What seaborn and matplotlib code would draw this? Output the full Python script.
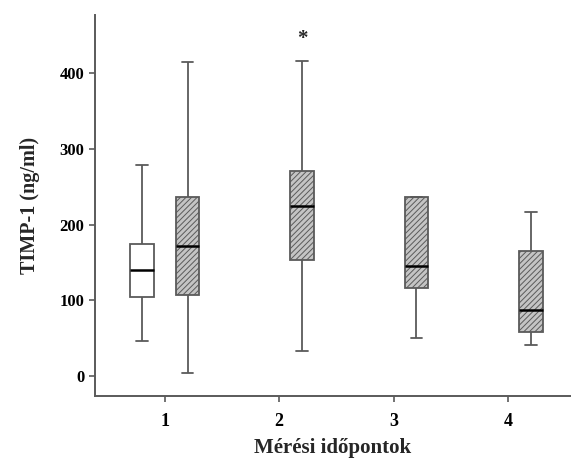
import numpy as np
import pandas as pd
import seaborn as sns
import matplotlib.pyplot as plt

# five-number summaries: min, q1, median, q3, max
times = ['1', '1', '2', '3', '4']
groups = ['kontroll', 'beteg', 'beteg', 'beteg', 'beteg']
summaries = [
    [46, 104, 140, 175, 279],
    [5, 107, 172, 236, 414],
    [33, 153, 225, 270, 416],
    [50, 117, 146, 237, 237],
    [41, 58, 88, 165, 217],
]
time_order = ['1', '2', '3', '4']
group_order = ['kontroll', 'beteg']

rows = []
for t, g, vals in zip(times, groups, summaries):
    for v in vals:
        rows.append({'time': t, 'group': g, 'value': v})
df = pd.DataFrame(rows)

sns.set_style('ticks')
plt.rcParams['font.family'] = ['Liberation Serif', 'DejaVu Serif']
plt.rcParams['hatch.linewidth'] = 0.7

fig = plt.figure(figsize=(5.71, 4.59), dpi=100)
ax = fig.add_axes([0.166, 0.137, 0.834, 0.83])

sns.boxplot(data=df, x='time', y='value', hue='group', order=time_order,
            hue_order=group_order, palette={'kontroll': 'white', 'beteg': '#c4c4c4'},
            saturation=1, width=0.8, gap=0.48, whis=np.inf, linecolor='#5a5a5a',
            linewidth=1.3, medianprops={'color': 'black', 'linewidth': 1.8},
            legend=False, ax=ax)

for p in ax.patches:
    fc = p.get_facecolor()
    if fc[0] < 0.9:
        p.set_hatch('//////')
        p.set_edgecolor('#5a5a5a')

ax.text(1.2, 444, '*', ha='center', va='center', fontsize=15, fontweight='bold')

ax.set_xlim(-0.61, 3.55)
ax.set_ylim(-26, 476)
ax.set_yticks([0, 100, 200, 300, 400])
ax.set_xlabel('Mérési időpontok', fontsize=15, fontweight='bold', labelpad=6)
ax.set_ylabel('TIMP-1 (ng/ml)', fontsize=14.5, fontweight='bold', labelpad=14)

for lab in ax.get_yticklabels():
    lab.set_fontweight('bold')
    lab.set_fontsize(12)
for lab in ax.get_xticklabels():
    lab.set_fontweight('bold')
    lab.set_fontsize(13)

sns.despine(ax=ax)
for s in ['left', 'bottom']:
    ax.spines[s].set_color('#5a5a5a')
    ax.spines[s].set_linewidth(1.4)
ax.tick_params(colors='#5a5a5a', labelcolor='black', length=4, width=1.2)
ax.tick_params(axis='x', pad=8)

fig.savefig('out.png', dpi=100)
